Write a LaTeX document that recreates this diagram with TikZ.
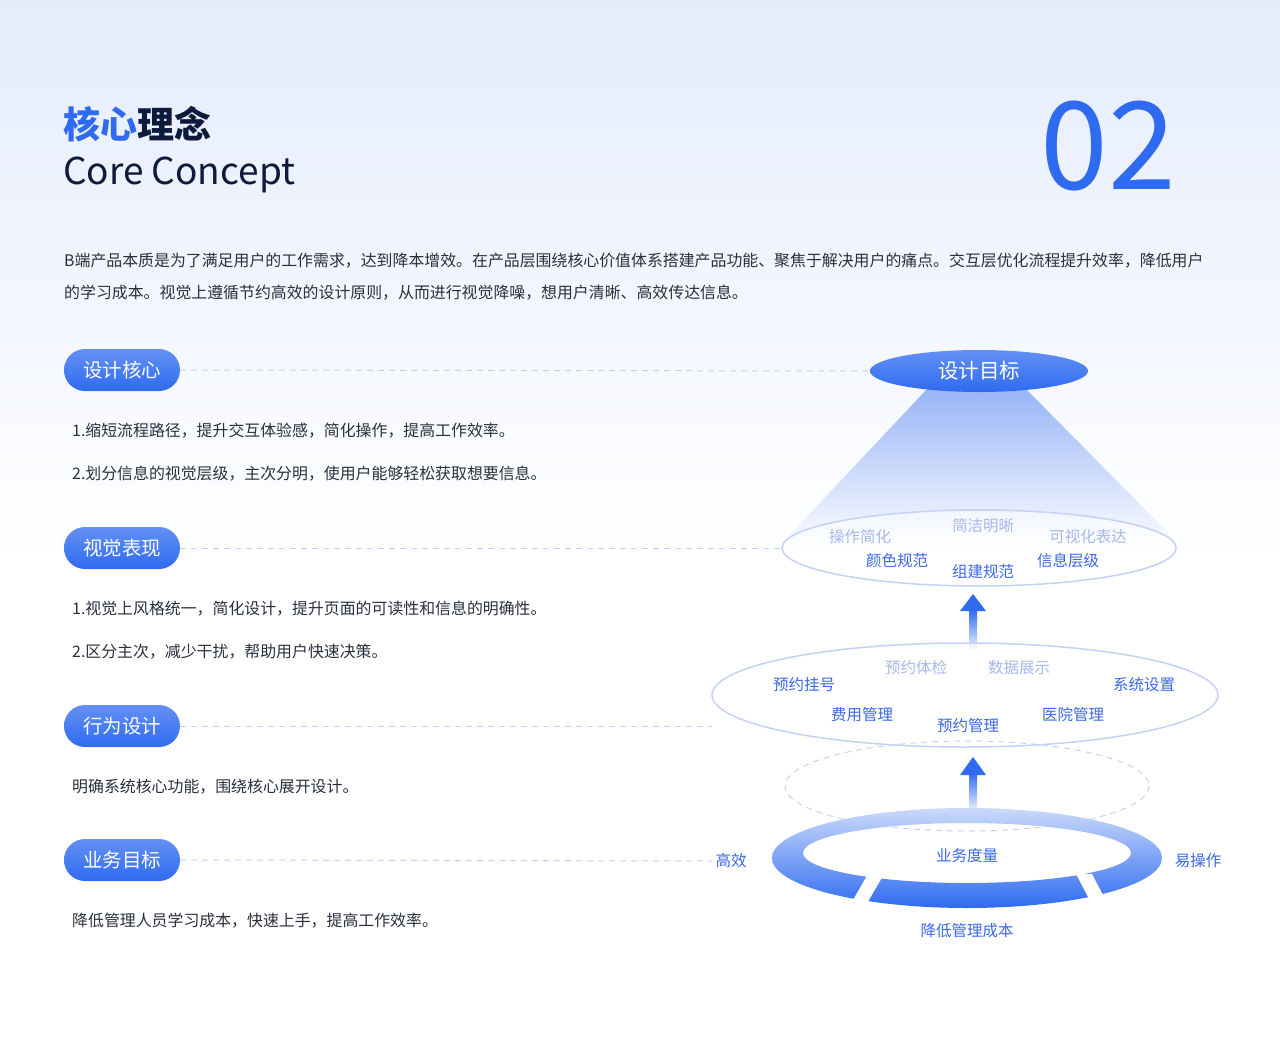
\documentclass[tikz,border=0pt]{standalone}
\usepackage{fontspec}
\setmainfont{Noto Sans CJK SC}
\usetikzlibrary{shadings}
\definecolor{bl}{HTML}{2F6BF0}
\definecolor{dk}{HTML}{0E1A3A}
\definecolor{tx}{HTML}{2A2F3D}
\definecolor{fa}{HTML}{A6B8EE}
\definecolor{st}{HTML}{3B68E6}
\definecolor{ln}{HTML}{C3D2F5}
\tikzset{
 pill/.style={rounded corners=21pt,minimum width=116pt,minimum height=42pt,top color=bl!75,bottom color=bl,text=white,font=\fontsize{19.5}{19.5}\selectfont,inner sep=0},
 body/.style={anchor=west,text=tx,font=\fontsize{15.9}{15.9}\selectfont,inner sep=0},
 dline/.style={ln,dashed,dash pattern=on 6pt off 5pt,line width=1pt},
 fat/.style={text=fa,font=\fontsize{15.5}{15.5}\selectfont},
 stt/.style={text=st,font=\fontsize{15.5}{15.5}\selectfont},
}
\begin{document}
\begin{tikzpicture}[x=1pt,y=-1pt]
\useasboundingbox (0,0) rectangle (1280,1054);
\shade[top color={rgb,255:red,228;green,236;blue,252},bottom color=white] (0,0) rectangle (1280,560);
\fill[white] (0,560) rectangle (1280,1054);
% titles
\node[anchor=west,inner sep=0,font=\fontsize{37}{37}\selectfont\bfseries] (t1) at (63,124) {\textcolor{bl}{核心}\textcolor{dk}{理念}};
\node[anchor=west,inner sep=0,font=\fontsize{37}{37}\selectfont,text=dk] (t2) at (63,175) {Core Concept};
\node[inner sep=0,font=\fontsize{122}{122}\selectfont,text=bl] (num) at (1108,146) {02};
\node[body] (p1) at (64,261) {B端产品本质是为了满足用户的工作需求，达到降本增效。在产品层围绕核心价值体系搭建产品功能、聚焦于解决用户的痛点。交互层优化流程提升效率，降低用户};
\node[body] (p2) at (64,293) {的学习成本。视觉上遵循节约高效的设计原则，从而进行视觉降噪，想用户清晰、高效传达信息。};
% pills
\node[pill] (k1) at (122,370) {设计核心};
\node[pill] (k2) at (122,548) {视觉表现};
\node[pill] (k3) at (122,726) {行为设计};
\node[pill] (k4) at (122,860) {业务目标};
\node[body] (b1) at (72,431) {1.缩短流程路径，提升交互体验感，简化操作，提高工作效率。};
\node[body] (b2) at (72,474) {2.划分信息的视觉层级，主次分明，使用户能够轻松获取想要信息。};
\node[body] (b3) at (72,609) {1.视觉上风格统一，简化设计，提升页面的可读性和信息的明确性。};
\node[body] (b4) at (72,652) {2.区分主次，减少干扰，帮助用户快速决策。};
\node[body] (b5) at (72,787) {明确系统核心功能，围绕核心展开设计。};
\node[body] (b6) at (72,921) {降低管理人员学习成本，快速上手，提高工作效率。};
% cone
\shade[top color=bl!55,bottom color=bl!3,opacity=0.9] (928,388) -- (1025,388) -- (1175,540) -- (785,540) -- cycle;
% ellipses
\fill[white,opacity=0.5] (979,548) ellipse (197 and 38);
\draw[ln,line width=1.5pt] (979,548) ellipse (197 and 38);
\shade[top color=bl!75,bottom color=bl] (979,371) ellipse (109 and 21);
\node[text=white,font=\fontsize{20.5}{20.5}\selectfont] (goal) at (979,371) {设计目标};
\coordinate (e1w) at (870,371);
\coordinate (e2w) at (782,548);
\coordinate (e3w) at (712,726);
\node[fat] at (860,537) {操作简化};
\node[fat] at (983,526) {简洁明晰};
\node[fat] at (1088,537) {可视化表达};
\node[stt] at (897,561) {颜色规范};
\node[stt] at (983,572) {组建规范};
\node[stt] at (1068,561) {信息层级};
% arrow 1
\shade[top color=bl,bottom color=bl!5] (969,610) rectangle (977,650);
\fill[bl] (960,611) -- (973,594) -- (986,611) -- cycle;
\fill[white,opacity=0.5] (965,695) ellipse (253 and 52);
\draw[ln,line width=1.5pt] (965,695) ellipse (253 and 52);
\node[fat] at (916,668) {预约体检};
\node[fat] at (1019,668) {数据展示};
\node[stt] at (804,685) {预约挂号};
\node[stt] at (1144,685) {系统设置};
\node[stt] at (862,715) {费用管理};
\node[stt] at (1073,715) {医院管理};
\node[stt] at (968,726) {预约管理};
% dashed ellipse
\draw[dline] (967,786) ellipse (182 and 45);
% arrow 2
\shade[top color=bl,bottom color=bl!5] (969,773) rectangle (977,812);
\fill[bl] (960,775) -- (973,757) -- (986,775) -- cycle;
% ring
\shade[top color=bl!25,bottom color=bl,even odd rule] (967,858) ellipse (195 and 50) (967,853) ellipse (164 and 30);
\fill[white] (868,874) -- (884,874) -- (862,912) -- (846,912) -- cycle;
\fill[white] (1076,874) -- (1092,874) -- (1112,912) -- (1096,912) -- cycle;
\node[stt] (r0) at (967,856) {业务度量};
\node[stt] (r1) at (731,861) {高效};
\node[stt] (r2) at (1198,861) {易操作};
\node[stt] (r3) at (967,931) {降低管理成本};
% dashed links
\draw[dline] (k1.east) -- (e1w);
\draw[dline] (k2.east) -- (e2w);
\draw[dline] (k3.east) -- (e3w);
\draw[dline] (k4.east) -- (r1.west);
\end{tikzpicture}
\end{document}
